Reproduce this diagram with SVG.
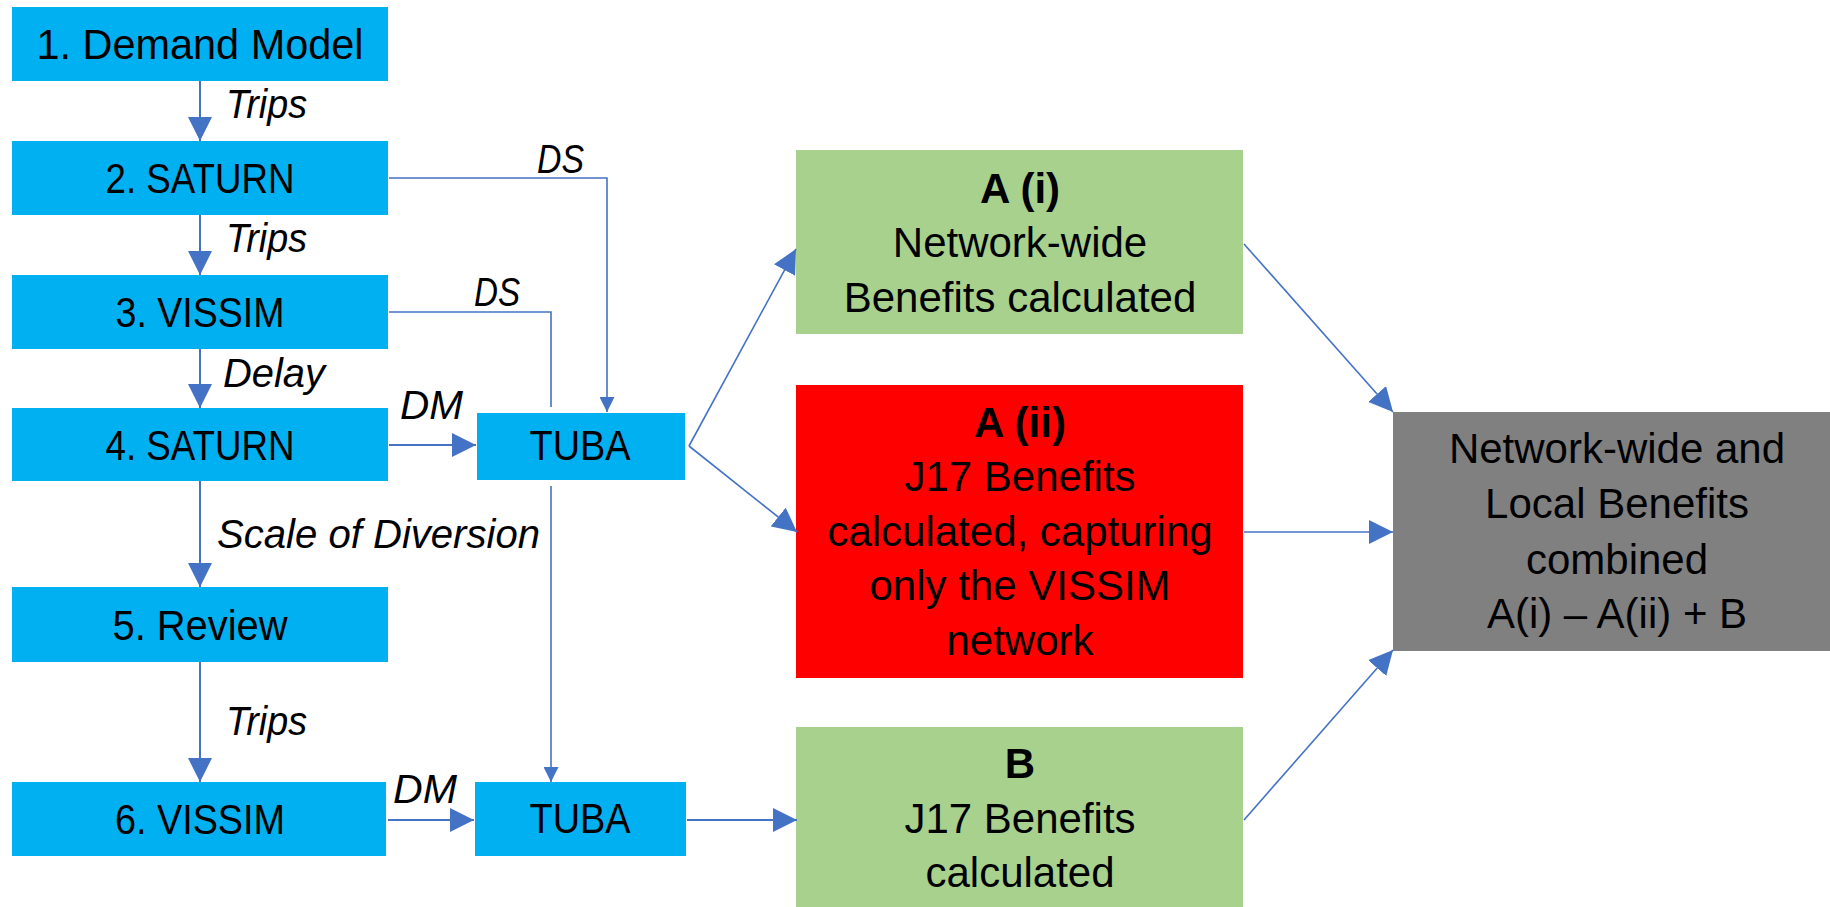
<svg xmlns="http://www.w3.org/2000/svg" width="1830" height="907" viewBox="0 0 1830 907">
<style>
.t{font-family:'Liberation Sans',Arial,sans-serif;font-size:42px;fill:#000;text-anchor:middle}
.b{font-weight:bold}
.l{font-family:'Liberation Sans',Arial,sans-serif;font-size:40px;font-style:italic;fill:#000}
.c{fill:none;stroke:#4472C4;stroke-width:2}
.th{stroke-width:1.6}
.blue{fill:#00B0F0}
.green{fill:#A9D18E}
.red{fill:#FF0000}
.grey{fill:#808080}
</style>
<defs>
<marker id="ah" markerUnits="userSpaceOnUse" markerWidth="24" markerHeight="24" refX="24" refY="12" orient="auto">
<path d="M0,0 L24,12 L0,24 z" fill="#4472C4"/>
</marker>
<marker id="as" markerUnits="userSpaceOnUse" markerWidth="15" markerHeight="15" refX="15" refY="7.5" orient="auto">
<path d="M0,0 L15,7.5 L0,15 z" fill="#4472C4"/>
</marker>
</defs>
<rect width="1830" height="907" fill="#fff"/>

<g id="n1"><rect class="blue" x="12" y="7" width="376" height="74"/><text class="t" x="200" y="59" textLength="327" lengthAdjust="spacingAndGlyphs">1. Demand Model</text></g>
<g id="n2"><rect class="blue" x="12" y="141" width="376" height="74"/><text class="t" x="200" y="193" textLength="189" lengthAdjust="spacingAndGlyphs">2. SATURN</text></g>
<g id="n3"><rect class="blue" x="12" y="275" width="376" height="74"/><text class="t" x="200" y="327" textLength="169" lengthAdjust="spacingAndGlyphs">3. VISSIM</text></g>
<g id="n4"><rect class="blue" x="12" y="408" width="376" height="73"/><text class="t" x="200" y="460" textLength="189" lengthAdjust="spacingAndGlyphs">4. SATURN</text></g>
<g id="n5"><rect class="blue" x="12" y="587" width="376" height="75"/><text class="t" x="200" y="640" textLength="175" lengthAdjust="spacingAndGlyphs">5. Review</text></g>
<g id="n6"><rect class="blue" x="12" y="782" width="374" height="74"/><text class="t" x="200" y="834" textLength="170" lengthAdjust="spacingAndGlyphs">6. VISSIM</text></g>
<g id="tuba1"><rect class="blue" x="477" y="413" width="208" height="67"/><text class="t" x="580" y="460" textLength="101" lengthAdjust="spacingAndGlyphs">TUBA</text></g>
<g id="tuba2"><rect class="blue" x="475" y="782" width="211" height="74"/><text class="t" x="580" y="833" textLength="101" lengthAdjust="spacingAndGlyphs">TUBA</text></g>

<g id="ai"><rect class="green" x="796" y="150" width="447" height="184"/>
<text class="t b" x="1020" y="203">A (i)</text>
<text class="t" x="1020" y="257">Network-wide</text>
<text class="t" x="1020" y="312">Benefits calculated</text></g>
<g id="aii"><rect class="red" x="796" y="385" width="447" height="293"/>
<text class="t b" x="1020" y="437">A (ii)</text>
<text class="t" x="1020" y="491">J17 Benefits</text>
<text class="t" x="1020" y="546">calculated, capturing</text>
<text class="t" x="1020" y="600">only the VISSIM</text>
<text class="t" x="1020" y="655">network</text></g>
<g id="bb"><rect class="green" x="796" y="727" width="447" height="190"/>
<text class="t b" x="1020" y="778">B</text>
<text class="t" x="1020" y="833">J17 Benefits</text>
<text class="t" x="1020" y="887">calculated</text></g>
<g id="comb"><rect class="grey" x="1393" y="412" width="450" height="239"/>
<text class="t" x="1617" y="463">Network-wide and</text>
<text class="t" x="1617" y="518">Local Benefits</text>
<text class="t" x="1617" y="574">combined</text>
<text class="t" x="1617" y="628">A(i) – A(ii) + B</text></g>

<g id="connectors">
<path class="c" d="M200,81 V141" marker-end="url(#ah)"/>
<path class="c" d="M200,215 V275" marker-end="url(#ah)"/>
<path class="c" d="M200,349 V408" marker-end="url(#ah)"/>
<path class="c" d="M200,481 V587" marker-end="url(#ah)"/>
<path class="c" d="M200,662 V782" marker-end="url(#ah)"/>
<path class="c th" d="M389,178 H607 V412" marker-end="url(#as)"/>
<path class="c th" d="M389,312 H551 V407"/>
<path class="c" d="M389,445 H476" marker-end="url(#ah)"/>
<path class="c th" d="M551,486 V782" marker-end="url(#as)"/>
<path class="c" d="M388,820 H474" marker-end="url(#ah)"/>
<path class="c th" d="M689,446 L796,249" marker-end="url(#ah)"/>
<path class="c th" d="M689,446 L797,532" marker-end="url(#ah)"/>
<path class="c" d="M687,820 H797" marker-end="url(#ah)"/>
<path class="c th" d="M1244,244 L1393,412" marker-end="url(#ah)"/>
<path class="c th" d="M1244,532 H1393" marker-end="url(#ah)"/>
<path class="c th" d="M1244,820 L1393,650" marker-end="url(#ah)"/>
<text class="l" x="226" y="118" textLength="81" lengthAdjust="spacingAndGlyphs">Trips</text>
<text class="l" x="226" y="252" textLength="81" lengthAdjust="spacingAndGlyphs">Trips</text>
<text class="l" x="223" y="387" textLength="102" lengthAdjust="spacingAndGlyphs">Delay</text>
<text class="l" x="537" y="173" textLength="47" lengthAdjust="spacingAndGlyphs">DS</text>
<text class="l" x="474" y="306" textLength="46" lengthAdjust="spacingAndGlyphs">DS</text>
<text class="l" x="400" y="419" textLength="63" lengthAdjust="spacingAndGlyphs">DM</text>
<text class="l" x="217" y="548" textLength="323" lengthAdjust="spacingAndGlyphs">Scale of Diversion</text>
<text class="l" x="226" y="735" textLength="81" lengthAdjust="spacingAndGlyphs">Trips</text>
<text class="l" x="393" y="803" textLength="64" lengthAdjust="spacingAndGlyphs">DM</text>
</g>
</svg>
